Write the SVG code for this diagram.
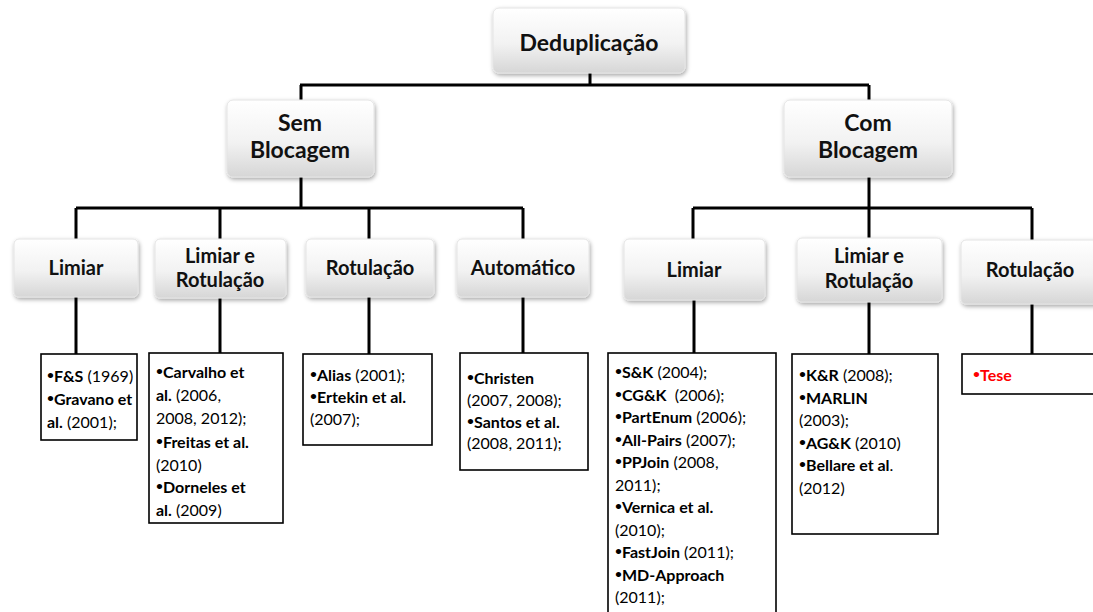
<svg xmlns="http://www.w3.org/2000/svg" width="1093" height="612" viewBox="0 0 1093 612">
  <defs>
    <linearGradient id="boxFill" x1="0" y1="0" x2="0" y2="1">
      <stop offset="0" stop-color="#ffffff"/>
      <stop offset="0.55" stop-color="#f2f2f2"/>
      <stop offset="1" stop-color="#d6d6d6"/>
    </linearGradient>
    <filter id="shadow" x="-10%" y="-10%" width="125%" height="135%">
      <feDropShadow dx="1" dy="2" stdDeviation="2" flood-color="#000" flood-opacity="0.35"/>
    </filter>
  </defs>
  <style>
    .node { fill: url(#boxFill); stroke: #e4e4e4; stroke-width: 1; filter: url(#shadow); }
    .lbl { font-family: Lato, "Liberation Sans", sans-serif; font-weight: bold; fill: #111; text-anchor: middle; }
    .l1 { font-size: 23px; }
    .l2 { font-size: 20px; }
    .list { fill: #fff; stroke: #000; stroke-width: 1.6; }
    .txt { font-family: Lato, "Liberation Sans", sans-serif; font-size: 16px; fill: #000; }
    .b { font-weight: bold; }
    .dot { font-size: 12px; font-weight: bold; baseline-shift: 3px; }
    .red { fill: #ff0000; font-weight: bold; }
    .conn { fill: none; stroke: #000; stroke-width: 3; }
  </style>
  <rect width="1093" height="612" fill="#fff"/>

  <!-- connectors -->
  <g id="connectors" class="conn">
    <path d="M590 73 V85 M300 85 H869 M301 85 V100 M869 85 V100"/>
    <path d="M301 177 V208 M76 208 H523 M76 208 V239 M220 208 V239 M369 208 V239 M523 208 V239"/>
    <path d="M869 177 V208 M693 208 H1032 M693 208 V239 M869 208 V239 M1032 208 V240"/>
    <path d="M76 297 V354 M220 298 V353 M369 297 V354 M523 297 V353"/>
    <path d="M694 300 V353 M869 302 V354 M1032 304 V354"/>
  </g>

  <!-- root -->
  <g id="deduplicacao">
    <rect class="node" x="493" y="8" width="192" height="65" rx="6"/>
    <text class="lbl l1" x="589" y="51">Deduplicação</text>
  </g>

  <!-- first level -->
  <g id="sem-blocagem">
    <rect class="node" x="227" y="100" width="147" height="77" rx="6"/>
    <text class="lbl l1" x="300" y="131">Sem</text>
    <text class="lbl l1" x="300" y="158">Blocagem</text>
  </g>
  <g id="com-blocagem">
    <rect class="node" x="784" y="100" width="168" height="77" rx="6"/>
    <text class="lbl l1" x="868" y="131">Com</text>
    <text class="lbl l1" x="868" y="158">Blocagem</text>
  </g>

  <!-- second level: sem blocagem -->
  <g id="sem-limiar">
    <rect class="node" x="14" y="239" width="124" height="58" rx="5"/>
    <text class="lbl l2" x="76" y="275">Limiar</text>
  </g>
  <g id="sem-limiar-rotulacao">
    <rect class="node" x="155" y="239" width="131" height="59" rx="5"/>
    <text class="lbl l2" x="220" y="263">Limiar e</text>
    <text class="lbl l2" x="220" y="287">Rotulação</text>
  </g>
  <g id="sem-rotulacao">
    <rect class="node" x="306" y="239" width="128" height="58" rx="5"/>
    <text class="lbl l2" x="370" y="275">Rotulação</text>
  </g>
  <g id="sem-automatico">
    <rect class="node" x="457" y="239" width="132" height="58" rx="5"/>
    <text class="lbl l2" x="523" y="275">Automático</text>
  </g>

  <!-- second level: com blocagem -->
  <g id="com-limiar">
    <rect class="node" x="624" y="239" width="141" height="61" rx="5"/>
    <text class="lbl l2" x="694" y="277">Limiar</text>
  </g>
  <g id="com-limiar-rotulacao">
    <rect class="node" x="797" y="238" width="145" height="64" rx="5"/>
    <text class="lbl l2" x="869" y="263">Limiar e</text>
    <text class="lbl l2" x="869" y="288">Rotulação</text>
  </g>
  <g id="com-rotulacao">
    <rect class="node" x="961" y="240" width="140" height="64" rx="5"/>
    <text class="lbl l2" x="1030" y="277">Rotulação</text>
  </g>

  <!-- reference lists -->
  <g id="lista-sem-limiar">
    <rect class="list" x="41" y="354" width="96" height="86"/>
    <text class="txt" x="47" y="382"><tspan class="dot">•</tspan><tspan class="b">F&amp;S</tspan> (1969)</text>
    <text class="txt" x="47" y="405"><tspan class="dot">•</tspan><tspan class="b">Gravano et</tspan></text>
    <text class="txt" x="47" y="428"><tspan class="b">al.</tspan> (2001);</text>
  </g>
  <g id="lista-sem-limiar-rotulacao">
    <rect class="list" x="149" y="353" width="134" height="170"/>
    <text class="txt" x="156" y="378"><tspan class="dot">•</tspan><tspan class="b">Carvalho et</tspan></text>
    <text class="txt" x="156" y="401"><tspan class="b">al.</tspan> (2006,</text>
    <text class="txt" x="156" y="424">2008, 2012);</text>
    <text class="txt" x="156" y="448"><tspan class="dot">•</tspan><tspan class="b">Freitas et al.</tspan></text>
    <text class="txt" x="156" y="471">(2010)</text>
    <text class="txt" x="156" y="493"><tspan class="dot">•</tspan><tspan class="b">Dorneles et</tspan></text>
    <text class="txt" x="156" y="516"><tspan class="b">al.</tspan> (2009)</text>
  </g>
  <g id="lista-sem-rotulacao">
    <rect class="list" x="303" y="354" width="129" height="91"/>
    <text class="txt" x="310" y="381"><tspan class="dot">•</tspan><tspan class="b">Alias</tspan> (2001);</text>
    <text class="txt" x="310" y="403"><tspan class="dot">•</tspan><tspan class="b">Ertekin et al.</tspan></text>
    <text class="txt" x="310" y="425">(2007);</text>
  </g>
  <g id="lista-sem-automatico">
    <rect class="list" x="460" y="353" width="128" height="117"/>
    <text class="txt" x="467" y="384"><tspan class="dot">•</tspan><tspan class="b">Christen</tspan></text>
    <text class="txt" x="467" y="406">(2007, 2008);</text>
    <text class="txt" x="467" y="428"><tspan class="dot">•</tspan><tspan class="b">Santos et al.</tspan></text>
    <text class="txt" x="467" y="449">(2008, 2011);</text>
  </g>
  <g id="lista-com-limiar">
    <rect class="list" x="608" y="353" width="168" height="270"/>
    <text class="txt" x="615" y="378"><tspan class="dot">•</tspan><tspan class="b">S&amp;K</tspan> (2004);</text>
    <text class="txt" x="615" y="400.5" xml:space="preserve"><tspan class="dot">•</tspan><tspan class="b">CG&amp;K</tspan>  (2006);</text>
    <text class="txt" x="615" y="423"><tspan class="dot">•</tspan><tspan class="b">PartEnum</tspan> (2006);</text>
    <text class="txt" x="615" y="445.5"><tspan class="dot">•</tspan><tspan class="b">All-Pairs</tspan> (2007);</text>
    <text class="txt" x="615" y="468"><tspan class="dot">•</tspan><tspan class="b">PPJoin</tspan> (2008,</text>
    <text class="txt" x="615" y="490.5">2011);</text>
    <text class="txt" x="615" y="513"><tspan class="dot">•</tspan><tspan class="b">Vernica et al.</tspan></text>
    <text class="txt" x="615" y="535.5">(2010);</text>
    <text class="txt" x="615" y="558"><tspan class="dot">•</tspan><tspan class="b">FastJoin</tspan> (2011);</text>
    <text class="txt" x="615" y="580.5"><tspan class="dot">•</tspan><tspan class="b">MD-Approach</tspan></text>
    <text class="txt" x="615" y="603">(2011);</text>
  </g>
  <g id="lista-com-limiar-rotulacao">
    <rect class="list" x="792" y="354" width="146" height="180"/>
    <text class="txt" x="799" y="381"><tspan class="dot">•</tspan><tspan class="b">K&amp;R</tspan> (2008);</text>
    <text class="txt" x="799" y="403.5"><tspan class="dot">•</tspan><tspan class="b">MARLIN</tspan></text>
    <text class="txt" x="799" y="426">(2003);</text>
    <text class="txt" x="799" y="448.5"><tspan class="dot">•</tspan><tspan class="b">AG&amp;K</tspan> (2010)</text>
    <text class="txt" x="799" y="471"><tspan class="dot">•</tspan><tspan class="b">Bellare et al</tspan>.</text>
    <text class="txt" x="799" y="493.5">(2012)</text>
  </g>
  <g id="lista-com-rotulacao">
    <rect class="list" x="962" y="354" width="140" height="40"/>
    <text class="txt red" x="973" y="381"><tspan class="dot">•</tspan>Tese</text>
  </g>
</svg>
